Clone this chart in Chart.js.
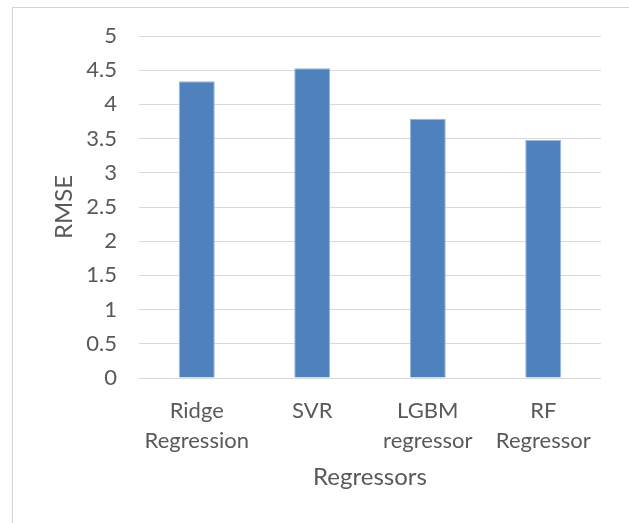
<!DOCTYPE html>
<html>
<head>
<meta charset="utf-8">
<script src="https://cdn.jsdelivr.net/npm/chart.js@4/dist/chart.umd.min.js"></script>
<style>
  html, body { margin: 0; padding: 0; background: #ffffff; overflow: hidden; }
  #wrap { position: relative; width: 629px; height: 523px; }
  #frame { position: absolute; left: 12px; top: 7px; width: 700px; height: 600px; border: 1px solid #d4d4d4; box-sizing: border-box; }
  canvas { position: absolute; left: 0; top: 0; }
</style>
</head>
<body>
<div id="wrap">
  <div id="frame"></div>
  <canvas id="chart" width="629" height="523"></canvas>
</div>
<script>
// Regressor names (two-line tick labels) and their RMSE scores
const categories = [["Ridge", "Regression"], ["SVR"], ["LGBM", "regressor"], ["RF", "Regressor"]];
const rmseValues = [4.34, 4.53, 3.79, 3.48];
const yTickValues = [0, 0.5, 1, 1.5, 2, 2.5, 3, 3.5, 4, 4.5, 5];

const textColor = "#595959";
const fontFamily = "Lato, 'Open Sans', sans-serif";

new Chart(document.getElementById("chart"), {
  type: "bar",
  data: {
    labels: categories,
    datasets: [{
      label: "RMSE",
      data: rmseValues,
      backgroundColor: "#4f81bd",
      borderColor: "#9db8da",
      borderWidth: 1,
      barPercentage: 0.312,
      categoryPercentage: 1.0
    }]
  },
  options: {
    responsive: false,
    animation: false,
    layout: { padding: { left: 0, right: 28, top: 36, bottom: 0 } },
    plugins: { legend: { display: false }, tooltip: { enabled: false } },
    scales: {
      x: {
        grid: { display: false, drawTicks: false },
        border: { display: false },
        ticks: {
          color: textColor,
          padding: 18,
          maxRotation: 0,
          autoSkip: false,
          font: { family: fontFamily, size: 22, lineHeight: "30px" }
        },
        title: {
          display: true,
          text: "Regressors",
          color: textColor,
          font: { family: fontFamily, size: 24 },
          padding: { top: 0, bottom: 31 }
        },
        afterFit: (scale) => { scale.height = 145; }
      },
      y: {
        min: 0,
        max: 5,
        afterBuildTicks: (scale) => { scale.ticks = yTickValues.map(v => ({ value: v })); },
        grid: { color: "#d9d9d9", lineWidth: 1, drawTicks: false },
        border: { display: false },
        ticks: {
          color: textColor,
          padding: 22,
          font: { family: fontFamily, size: 22 },
          callback: (value) => String(value)
        },
        title: {
          display: true,
          text: "RMSE",
          color: textColor,
          font: { family: fontFamily, size: 24 },
          padding: { top: 50, bottom: 0 }
        },
        afterFit: (scale) => { scale.width = 139; }
      }
    }
  }
});
</script>
</body>
</html>
